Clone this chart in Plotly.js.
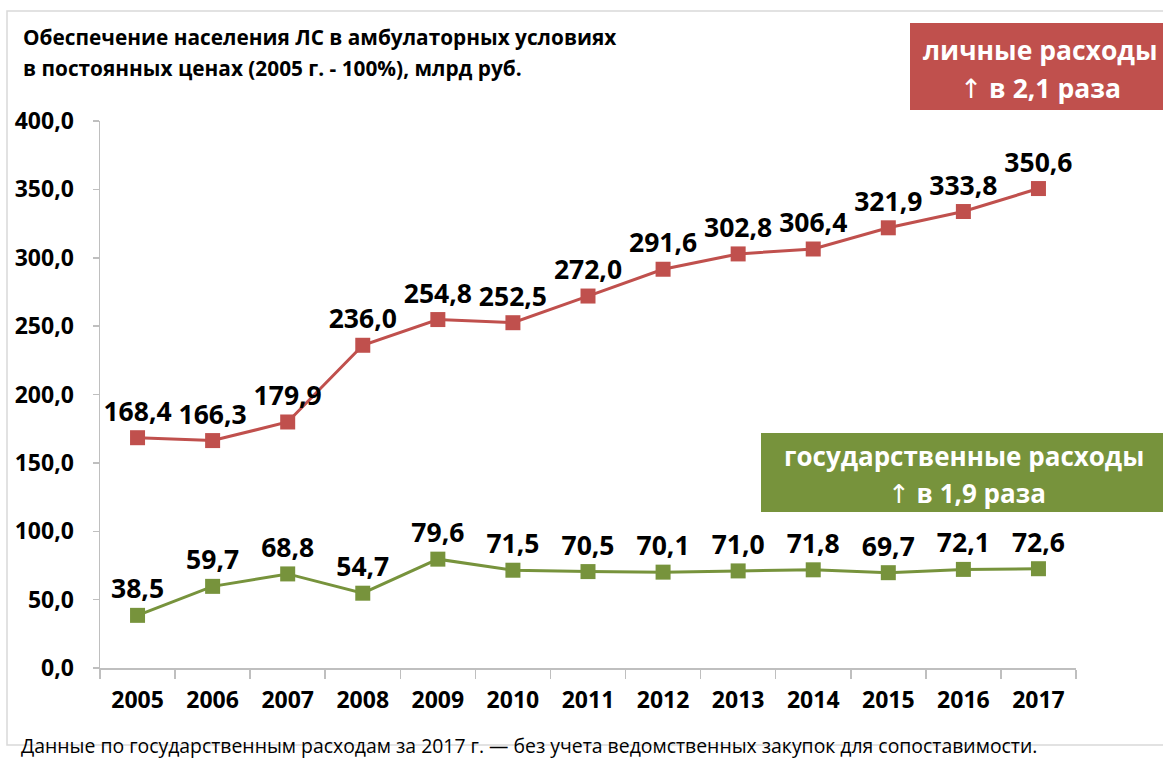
<!DOCTYPE html>
<html>
<head>
<meta charset="utf-8">
<script src="https://cdn.plot.ly/plotly-3.0.1.min.js"></script>
<style>
html,body{margin:0;padding:0;background:#fff;}
#chart{width:1163px;height:760px;}
</style>
</head>
<body>
<div id="chart"></div>
<script>
var years = ['2005','2006','2007','2008','2009','2010','2011','2012','2013','2014','2015','2016','2017'];
var personal = [168.4,166.3,179.9,236.0,254.8,252.5,272.0,291.6,302.8,306.4,321.9,333.8,350.6];
var government = [38.5,59.7,68.8,54.7,79.6,71.5,70.5,70.1,71.0,71.8,69.7,72.1,72.6];
var yTicks = [0,50,100,150,200,250,300,350,400];
var titleLines = ['Обеспечение населения ЛС в амбулаторных условиях','в постоянных ценах (2005 г. - 100%), млрд руб.'];
var personalBox = ['личные расходы','в 2,1 раза'];
var govBox = ['государственные расходы','в 1,9 раза'];
var arrow = '↑';
var footnote = 'Данные по государственным расходам за 2017 г. — без учета ведомственных закупок для сопоставимости.';
var markYear = '2012';

var W = 1163, H = 760;
var L = 100, T = 121, B = 92;
var R = W - 1076;
var pw = W - L - R, ph = H - T - B;
function px(x){ return (x - L) / pw; }
function py(y){ return (H - B - y) / ph; }

var RED = '#C0504D', GREEN = '#77933C';
var FONT = 'Open Sans, Noto Sans, sans-serif';
var ARROW = '<span style="font-family:DejaVu Sans;font-weight:normal">' + arrow + '</span> ';

var traces = [
  {x: years, y: personal, type:'scatter', mode:'lines+markers+text',
   line:{color:RED, width:3}, marker:{symbol:'square', size:15, color:RED},
   texttemplate:'%{y:.1f}', textposition:'top center',
   textfont:{family:FONT, size:26.5, color:'#000', weight:700}, cliponaxis:false, hoverinfo:'none'},
  {x: years, y: government, type:'scatter', mode:'lines+markers+text',
   line:{color:GREEN, width:3}, marker:{symbol:'square', size:15, color:GREEN},
   texttemplate:'%{y:.1f}', textposition:'top center',
   textfont:{family:FONT, size:26.5, color:'#000', weight:700}, cliponaxis:false, hoverinfo:'none'}
];

var shapes = [
  {type:'rect', xref:'paper', yref:'paper', x0:px(7), x1:px(1175), y0:py(745), y1:py(11),
   line:{color:'#D9D9D9', width:1.5}, fillcolor:'rgba(0,0,0,0)', layer:'below'},
  {type:'line', xref:'x', yref:'paper', x0:markYear, x1:markYear, y0:py(663), y1:py(11),
   line:{color:'#FF0000', width:1.5}},
  {type:'rect', xref:'paper', yref:'paper', x0:px(910), x1:px(1175), y0:py(110), y1:py(23),
   line:{width:0}, fillcolor:RED},
  {type:'rect', xref:'paper', yref:'paper', x0:px(761), x1:px(1175), y0:py(512), y1:py(433),
   line:{width:0}, fillcolor:GREEN}
];

var annotations = [
  {xref:'paper', yref:'paper', x:px(21), y:py(37), xanchor:'left', yanchor:'middle', showarrow:false,
   text:'<b>'+titleLines[0]+'</b>', font:{family:FONT, size:20.8, color:'#000'}},
  {xref:'paper', yref:'paper', x:px(21), y:py(68), xanchor:'left', yanchor:'middle', showarrow:false,
   text:'<b>'+titleLines[1]+'</b>', font:{family:FONT, size:20.8, color:'#000'}},
  {xref:'paper', yref:'paper', x:px(1040), y:py(50), xanchor:'center', yanchor:'middle', showarrow:false,
   text:'<b>'+personalBox[0]+'</b>', font:{family:FONT, size:26.5, color:'#fff'}},
  {xref:'paper', yref:'paper', x:px(1040), y:py(88), xanchor:'center', yanchor:'middle', showarrow:false,
   text:ARROW+'<b>'+personalBox[1]+'</b>', font:{family:FONT, size:26.5, color:'#fff'}},
  {xref:'paper', yref:'paper', x:px(964), y:py(456), xanchor:'center', yanchor:'middle', showarrow:false,
   text:'<b>'+govBox[0]+'</b>', font:{family:FONT, size:26, color:'#fff'}},
  {xref:'paper', yref:'paper', x:px(967), y:py(493), xanchor:'center', yanchor:'middle', showarrow:false,
   text:ARROW+'<b>'+govBox[1]+'</b>', font:{family:FONT, size:26, color:'#fff'}},
  {xref:'paper', yref:'paper', x:px(19), y:py(745), xanchor:'left', yanchor:'middle', showarrow:false,
   text:footnote, font:{family:FONT, size:19.4, color:'#000'}}
];

var layout = {
  width:W, height:H,
  margin:{l:L, r:R, t:T, b:B, pad:0},
  paper_bgcolor:'#fff', plot_bgcolor:'#fff',
  separators:', ',
  showlegend:false,
  font:{family:FONT, color:'#000'},
  xaxis:{type:'category', categoryorder:'array', categoryarray:years,
    range:[-0.5, years.length-0.5], showgrid:false, zeroline:false,
    showline:true, linecolor:'#BFBFBF', linewidth:1.5,
    ticks:'outside', tickson:'boundaries', ticklen:9, tickcolor:'#BFBFBF', tickwidth:1.5,
    tickfont:{family:FONT, size:23, color:'#000', weight:700}, ticklabelstandoff:11},
  yaxis:{range:[0,400], tickvals:yTicks, tickformat:'.1f', showgrid:false, zeroline:false,
    showline:true, linecolor:'#BFBFBF', linewidth:1.5,
    ticks:'outside', ticklen:6, tickcolor:'#BFBFBF', tickwidth:1.5,
    tickfont:{family:FONT, size:23, color:'#000', weight:700}, ticklabelstandoff:14},
  shapes:shapes,
  annotations:annotations
};

Plotly.newPlot('chart', traces, layout, {displayModeBar:false, staticPlot:true});
</script>
</body>
</html>
